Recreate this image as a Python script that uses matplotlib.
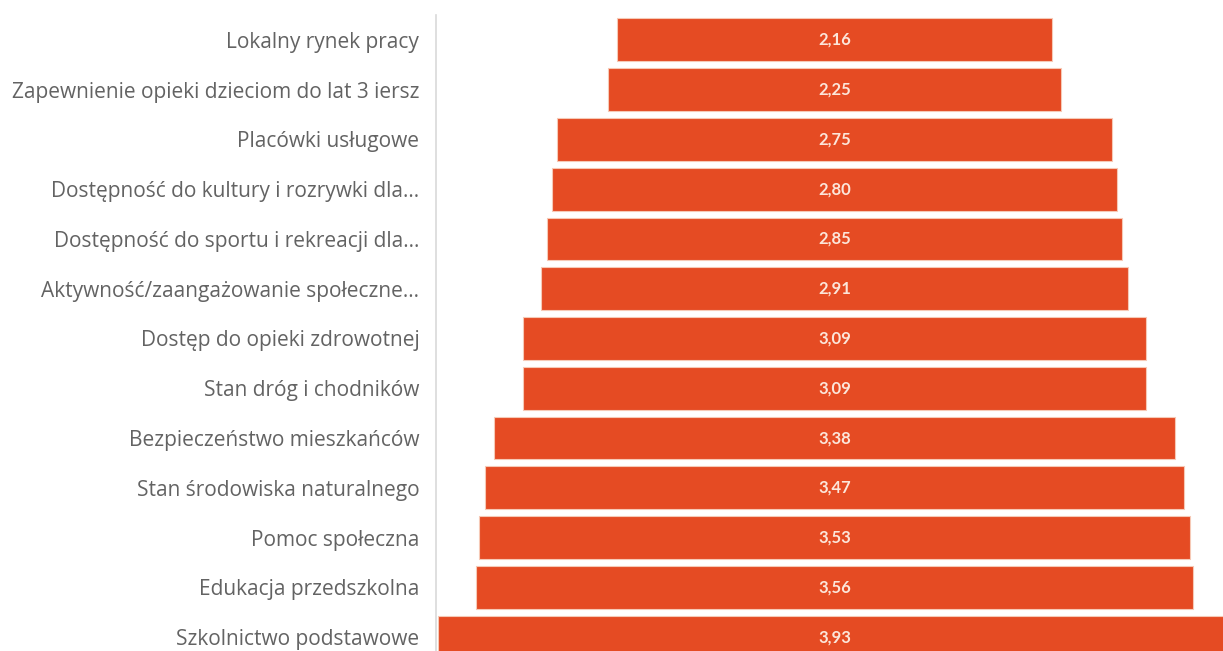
import matplotlib.pyplot as plt

# categories (top to bottom) and mean scores
categories = [
    "Lokalny rynek pracy",
    "Zapewnienie opieki dzieciom do lat 3 iersz",
    "Placówki usługowe",
    "Dostępność do kultury i rozrywki dla...",
    "Dostępność do sportu i rekreacji dla...",
    "Aktywność/zaangażowanie społeczne...",
    "Dostęp do opieki zdrowotnej",
    "Stan dróg i chodników",
    "Bezpieczeństwo mieszkańców",
    "Stan środowiska naturalnego",
    "Pomoc społeczna",
    "Edukacja przedszkolna",
    "Szkolnictwo podstawowe",
]
values = [2.16, 2.25, 2.75, 2.80, 2.85, 2.91, 3.09, 3.09, 3.38, 3.47, 3.53, 3.56, 3.93]

BAR_COLOR = "#E54B23"
LABEL_COLOR = "#636363"

fig = plt.figure(figsize=(12.23, 6.51), dpi=100)
# axes deliberately runs past the right and bottom edges, like the cropped original
ax = fig.add_axes([436 / 1223, 1 - 662 / 651, 797 / 1223, 647 / 651])

ypos = list(range(len(categories)))
lefts = [-v / 2 for v in values]
bars = ax.barh(ypos, values, left=lefts, height=0.86, color=BAR_COLOR,
               edgecolor="#F6C9B6", linewidth=0.8)

for y, v in zip(ypos, values):
    ax.text(0, y, f"{v:.2f}".replace(".", ","), ha="center", va="center",
            color="#FCE6DA", fontsize=12, fontweight="bold", family="Lato")

ax.set_xlim(-1.977, 1.977)
ax.set_ylim(12.5, -0.5)
ax.set_yticks(ypos)
ax.set_yticklabels(categories, fontsize=15, color=LABEL_COLOR, family="Open Sans")
ax.tick_params(axis="y", length=0, pad=12)
ax.set_xticks([])

for s in ["top", "right", "bottom"]:
    ax.spines[s].set_visible(False)
ax.spines["left"].set_color("#D9D9D9")
ax.spines["left"].set_linewidth(1.2)

fig.savefig("out.png", dpi=100)
